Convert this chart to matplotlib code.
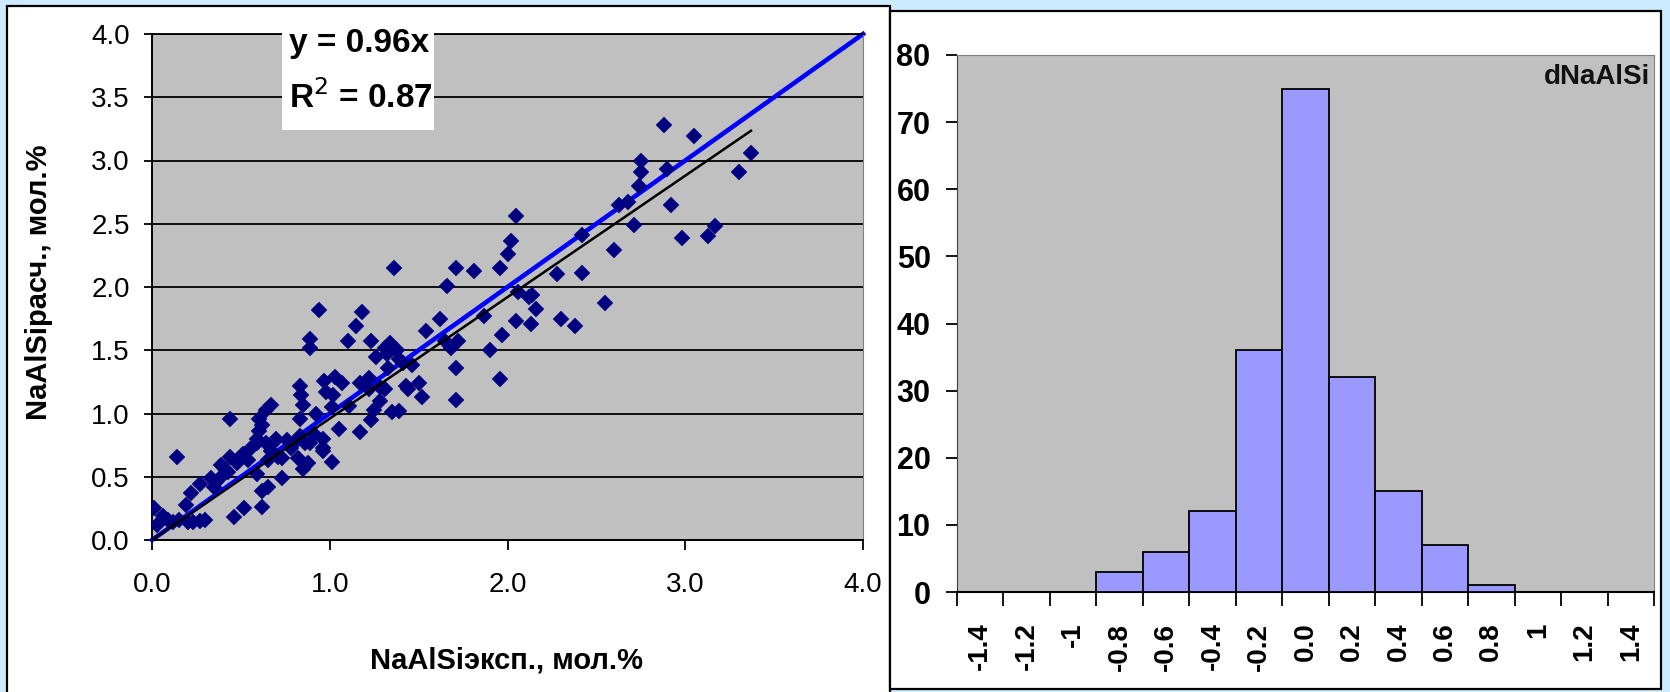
import numpy as np
import matplotlib
matplotlib.use('Agg')
import matplotlib.pyplot as plt
from matplotlib.patches import Rectangle

# --- data ---
na_exp = [2.88, 3.05, 3.37, 3.30, 2.75, 2.75, 2.90, 2.74, 2.92, 2.71, 2.63, 2.68,
          2.98, 3.13, 3.17, 2.42, 2.42, 2.60, 2.55, 2.38, 2.30, 2.28, 2.05, 2.02,
          2.00, 1.96, 2.06, 2.14, 2.12, 2.16, 2.13, 2.05, 1.97, 1.90, 1.96, 1.87,
          1.81, 1.71, 1.66, 1.62, 1.71, 1.71, 1.72, 1.68, 1.65, 1.54, 1.46, 1.50,
          1.52, 1.43, 1.44, 1.36, 1.34, 1.31, 1.38, 1.32, 1.39, 1.26, 1.23, 1.18,
          1.15, 1.10, 1.31, 1.28, 1.25, 1.23, 1.35, 1.39, 1.22, 1.17, 1.17, 1.11,
          1.05, 1.03, 1.07, 1.02, 0.98, 0.97, 0.94, 0.89, 0.89, 0.83, 0.84, 0.85,
          0.92, 0.83, 0.96, 0.96, 1.01, 0.86, 0.89, 0.88, 0.85, 0.82, 0.76, 0.70,
          0.73, 0.73, 0.67, 0.64, 0.60, 0.62, 0.60, 0.59, 0.64, 0.65, 0.62, 0.65,
          0.62, 0.54, 0.55, 0.51, 0.59, 0.52, 0.46, 0.44, 0.44, 0.41, 0.38, 0.35,
          0.33, 0.27, 0.22, 0.19, 0.14, 0.01, 0.06, 0.09, 0.12, 0.15, 0.20, 0.23,
          0.27, 0.30, 0.03, 0.48, 0.68, 0.80, 0.78, 0.59, 0.67, 0.71, 0.83, 0.91,
          0.96, 1.01, 1.22, 1.28, 1.41, 1.33, 0.39, 0.43, 0.36]
na_calc = [3.28, 3.19, 3.06, 2.91, 3.00, 2.91, 2.93, 2.80, 2.65, 2.49, 2.65, 2.67,
           2.39, 2.40, 2.48, 2.41, 2.11, 2.29, 1.87, 1.69, 1.75, 2.10, 2.56, 2.36,
           2.26, 2.15, 1.96, 1.94, 1.92, 1.83, 1.71, 1.73, 1.62, 1.50, 1.27, 1.77,
           2.13, 2.15, 2.01, 1.75, 1.36, 1.11, 1.57, 1.52, 1.57, 1.65, 1.38, 1.24,
           1.13, 1.22, 1.19, 2.15, 1.56, 1.52, 1.50, 1.47, 1.43, 1.45, 1.57, 1.80,
           1.69, 1.57, 1.19, 1.10, 1.03, 0.95, 1.01, 1.02, 1.28, 1.24, 0.85, 1.06,
           0.88, 1.29, 1.24, 1.15, 1.17, 1.26, 1.82, 1.59, 1.52, 1.22, 1.15, 1.07,
           1.00, 0.96, 0.73, 0.70, 0.62, 0.77, 0.77, 0.61, 0.56, 0.65, 0.79, 0.80,
           0.49, 0.65, 1.07, 1.03, 0.96, 0.91, 0.86, 0.80, 0.77, 0.63, 0.39, 0.42,
           0.26, 0.63, 0.72, 0.68, 0.52, 0.25, 0.18, 0.96, 0.66, 0.56, 0.49, 0.42,
           0.49, 0.44, 0.37, 0.28, 0.66, 0.25, 0.19, 0.16, 0.14, 0.16, 0.14, 0.14,
           0.15, 0.16, 0.12, 0.61, 0.77, 0.77, 0.73, 0.77, 0.70, 0.66, 0.82, 0.84,
           0.80, 1.05, 1.19, 1.21, 1.40, 1.36, 0.59, 0.54, 0.46]
fit_slope = 0.96
fit_r2 = 0.87

bin_labels = ['-1.4', '-1.2', '-1', '-0.8', '-0.6', '-0.4', '-0.2', '0.0',
              '0.2', '0.4', '0.6', '0.8', '1', '1.2', '1.4']
bin_counts = [0, 0, 0, 3, 6, 12, 36, 75, 32, 15, 7, 1, 0, 0, 0]

# --- fonts / colours ---
REG = ['Liberation Sans', 'DejaVu Sans']
NARROW = ['Liberation Sans Narrow', 'Liberation Sans', 'DejaVu Sans']
BG = '#CCEBFF'
PLOT_GREY = '#C0C0C0'

W, H = 1670, 692
fig = plt.figure(figsize=(W / 100, H / 100), dpi=100)
fig.patch.set_facecolor(BG)


def fx(px):
    return px / W


def fy(py):
    return 1 - py / H


# white panels with dark frames
fig.add_artist(Rectangle((fx(7), fy(700)), fx(890 - 7), (700 - 6) / H,
                         transform=fig.transFigure, facecolor='white',
                         edgecolor='black', lw=1.6, zorder=0))
fig.add_artist(Rectangle((fx(890), fy(689)), fx(1661 - 890), (689 - 11) / H,
                         transform=fig.transFigure, facecolor='white',
                         edgecolor='black', lw=1.6, zorder=0))

# ---------- left: scatter ----------
ax1 = fig.add_axes([fx(152), fy(540), fx(863 - 152), (540 - 34) / H])
ax1.set_facecolor(PLOT_GREY)
ax1.set_xlim(0, 4)
ax1.set_ylim(0, 4)
ax1.yaxis.grid(True, color='black', lw=1.3)
ax1.set_axisbelow(True)
for s in ['left', 'bottom']:
    ax1.spines[s].set_color('black')
    ax1.spines[s].set_linewidth(1.4)
ax1.spines['right'].set_color('#808080')
ax1.spines['top'].set_color('black')
ax1.spines['top'].set_linewidth(1.3)
xt = np.arange(0, 4.01, 1.0)
yt = np.arange(0, 4.01, 0.5)
ax1.set_xticks(xt)
ax1.set_yticks(yt)
ax1.set_xticklabels([f'{v:.1f}' for v in xt])
ax1.set_yticklabels([f'{v:.1f}' for v in yt])
ax1.tick_params(axis='y', direction='out', length=6, width=1.3, pad=10,
                labelsize=20, labelfontfamily='Liberation Sans')
ax1.tick_params(axis='x', direction='out', length=7, width=1.3, pad=16,
                labelsize=20, labelfontfamily='Liberation Sans')

lim = np.array(ax1.get_xlim())
ax1.plot(lim, lim, color='#0000FF', lw=3.3, zorder=2, clip_on=False)
ax1.plot(na_exp, na_calc, linestyle='none', marker='D', ms=8.4,
         color='#000080', mec='#000080', mew=0.3, zorder=3)
xfit = np.array([0, max(na_exp)])
ax1.plot(xfit, fit_slope * xfit, color='black', lw=1.8, zorder=4)

ax1.set_xlabel('NaAlSiэксп., мол.%', fontsize=21, fontweight='bold',
               family=REG)
ax1.set_ylabel('NaAlSiрасч., мол.%', fontsize=21, fontweight='bold',
               family=REG)
ax1.xaxis.set_label_coords(0.499, -0.21)
ax1.yaxis.set_label_coords(-0.139, 0.51)

# regression text box
fig.add_artist(Rectangle((fx(282), fy(130)), fx(434 - 282), (130 - 20) / H,
                         transform=fig.transFigure, facecolor='white',
                         edgecolor='none', zorder=5))
fig.text(fx(289), fy(52), f'y = {fit_slope:.2f}x', fontsize=24,
         fontweight='bold', family=REG, ha='left', va='baseline', zorder=6)
fig.text(fx(289), fy(108), f'R$^{{2}}$ = {fit_r2:.2f}', fontsize=24,
         fontweight='bold', family=REG, ha='left', va='baseline', zorder=6)

# ---------- right: histogram ----------
ax2 = fig.add_axes([fx(957), fy(592), fx(1654 - 957), (592 - 55) / H])
ax2.set_facecolor(PLOT_GREY)
pos = np.arange(len(bin_labels))
ax2.bar(pos, bin_counts, width=1.0, color='#9999FF', edgecolor='black',
        lw=1.3, zorder=3)
ax2.set_xlim(-0.5, len(bin_labels) - 0.5)
ax2.set_ylim(0, 80)
ax2.tick_params(axis='x', which='major', direction='out', length=10,
                width=1.3)
ax2.tick_params(axis='x', which='minor', length=0, pad=22)
ax2.tick_params(axis='y', direction='out', length=8, width=1.3, pad=11)
ax2.set_xticks(np.arange(len(bin_labels) + 1) - 0.5)
ax2.set_xticklabels([])
ax2.set_xticks(pos, minor=True)
ax2.set_xticklabels(bin_labels, minor=True, rotation=90, fontsize=20,
                    fontweight='bold', family=REG)
yt2 = np.arange(0, 81, 10)
ax2.set_yticks(yt2)
ax2.set_yticklabels([str(v) for v in yt2], fontsize=22, fontweight='bold',
                    family=NARROW)
for s in ['top', 'right']:
    ax2.spines[s].set_color('#808080')
ax2.spines['left'].set_color('#404040')
ax2.spines['bottom'].set_color('black')
ax2.spines['bottom'].set_linewidth(1.5)
ax2.text(0.995, 0.946, 'dNaAlSi', transform=ax2.transAxes, ha='right',
         va='baseline', fontsize=20, fontweight='bold', family=NARROW,
         color='#111111')

fig.savefig('out.png', dpi=100, facecolor=BG)
